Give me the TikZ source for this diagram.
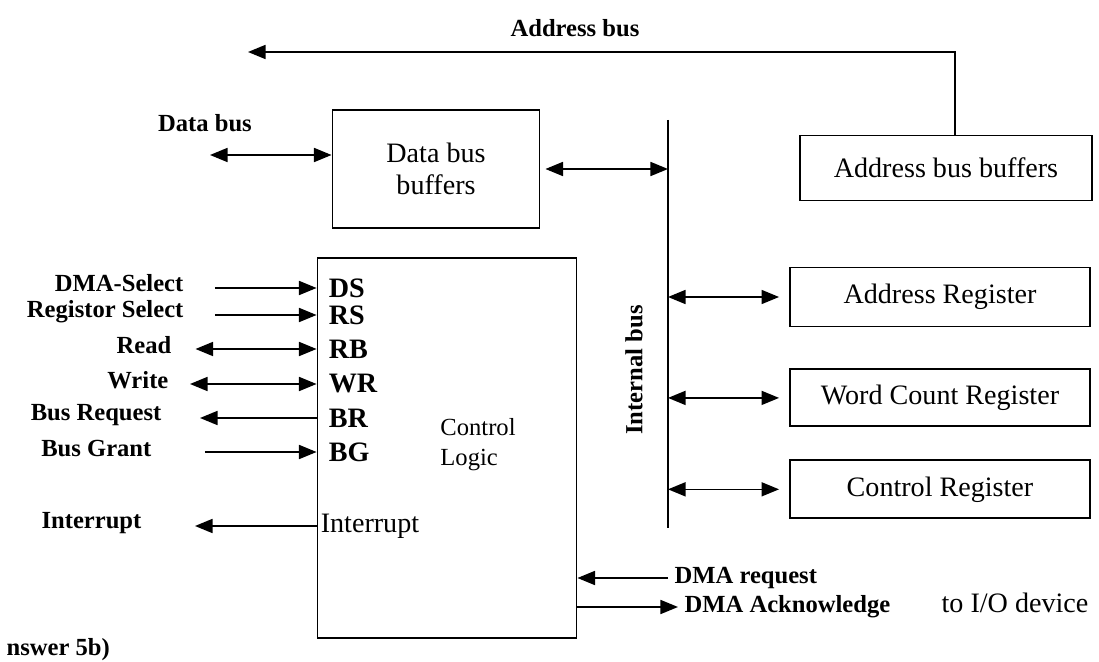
\documentclass[tikz,border=0pt]{standalone}
\usepackage{fontspec}
\setmainfont{Liberation Serif}
\usetikzlibrary{arrows.meta, positioning, calc}

\begin{document}
\begin{tikzpicture}[x=0.02cm, y=-0.02cm, line width=0.9pt,
  every node/.style={font=\fontsize{16}{18}\selectfont},
  sig/.style={font=\bfseries\fontsize{14}{16}\selectfont},
  blk/.style={draw, line width=1.1pt, font=\fontsize{16}{18}\selectfont},
  pin/.style={anchor=west, inner sep=0pt, font=\bfseries\fontsize{16}{18}\selectfont},
  tip/.style={-{Stealth[length=10pt, width=8pt, inset=0pt]}},
  dtip/.style={{Stealth[length=10pt, width=8pt, inset=0pt]}-{Stealth[length=10pt, width=8pt, inset=0pt]}}]
\useasboundingbox (0,0) rectangle (1099,662);
\node[blk, minimum width=4.14cm, minimum height=2.36cm, align=center] (dbb) at (436,169) {Data bus\\buffers};
\node[blk, minimum width=5.84cm, minimum height=1.3cm] (abb) at (946,168) {Address bus buffers};
\node[blk, minimum width=6cm, minimum height=1.18cm] (areg) at (940,297) {Address Register};
\node[blk, minimum width=6cm, minimum height=1.14cm, below=0.82cm of areg] (wcreg) {Word Count Register};
\node[blk, minimum width=6cm, minimum height=1.16cm, below=0.64cm of wcreg] (creg) {Control Register};
\node[draw, line width=1.1pt, minimum width=5.18cm, minimum height=7.6cm] (cl) at (447,448) {};
\node[align=left, font=\fontsize{14}{17}\selectfont] (cltxt) at (478,445) {Control\\Logic};
\coordinate (ibtop) at (668,120);
\coordinate (ibbot) at (668,528);
\draw (ibtop) -- (ibbot);
\node[sig, rotate=90] (iblbl) at (634,370) {Internal bus};
\draw[dtip, shorten <=0.1cm] (dbb.east) -- (dbb.east -| ibtop);
\draw[dtip, shorten >=0.2cm] (areg.west -| ibtop) -- (areg.west);
\draw[dtip, shorten >=0.2cm] (wcreg.west -| ibtop) -- (wcreg.west);
\draw[dtip, shorten >=0.2cm] (creg.west -| ibtop) -- (creg.west);
\coordinate (abturn) at (955,52);
\coordinate (abend) at (248,52);
\draw[tip] (abb.north -| abturn) -- (abturn) -- (abend);
\node[sig] (ablbl) at (575,28) {Address bus};
\coordinate (dbend) at (210,155);
\node[sig] (dblbl) at (205,123) {Data bus};
\draw[dtip] (dbend) -- (dbend -| dbb.west);
\node[pin] (ds) at (328,288) {DS};
\node[pin] (rs) at (328,315) {RS};
\node[pin] (rb) at (328,349) {RB};
\node[pin] (wr) at (328,384) {WR};
\node[pin] (br) at (328,418) {BR};
\node[pin] (bg) at (328,452) {BG};
\node[pin, font=\fontsize{16}{18}\selectfont] (intp) at (320,526) {Interrupt};
\node[sig, anchor=east] (dsel) at (190,283) {DMA-Select};
\node[sig, anchor=east] (rsel) at (190,312) {Registor Select};
\node[sig, anchor=east] (rd) at (178,345) {Read};
\node[sig, anchor=east] (wt) at (175,380) {Write};
\node[sig, anchor=east] (breq) at (168,415) {Bus Request};
\node[sig, anchor=east] (bgnt) at (158,449) {Bus Grant};
\node[sig, anchor=east] (intr) at (148,523) {Interrupt};
\draw[tip, shorten <=0.5cm] (dsel.east |- ds) -- (ds.west -| cl.west);
\draw[tip, shorten <=0.5cm] (rsel.east |- rs) -- (rs.west -| cl.west);
\draw[dtip, shorten <=0.35cm] (rd.east |- rb) -- (rb.west -| cl.west);
\draw[dtip, shorten <=0.3cm] (wt.east |- wr) -- (wr.west -| cl.west);
\draw[tip, shorten >=0.64cm] (br.west -| cl.west) -- (breq.east |- br);
\draw[tip, shorten <=0.94cm] (bgnt.east |- bg) -- (bg.west -| cl.west);
\draw[tip, shorten >=0.94cm] (intp.west -| cl.west) -- (intr.east |- intp);
\node[sig, anchor=west] (dreq) at (668,578) {DMA request};
\node[sig, anchor=west] (dack) at (678,607) {DMA Acknowledge};
\node (iodev) at (1015,603) {to I/O device};
\draw[tip] (dreq.west) -- (dreq.west -| cl.east);
\draw[tip] (dack.west -| cl.east) -- (dack.west);
\node[sig, anchor=west] (ans) at (0,650) {nswer 5b)};
\end{tikzpicture}
\end{document}
